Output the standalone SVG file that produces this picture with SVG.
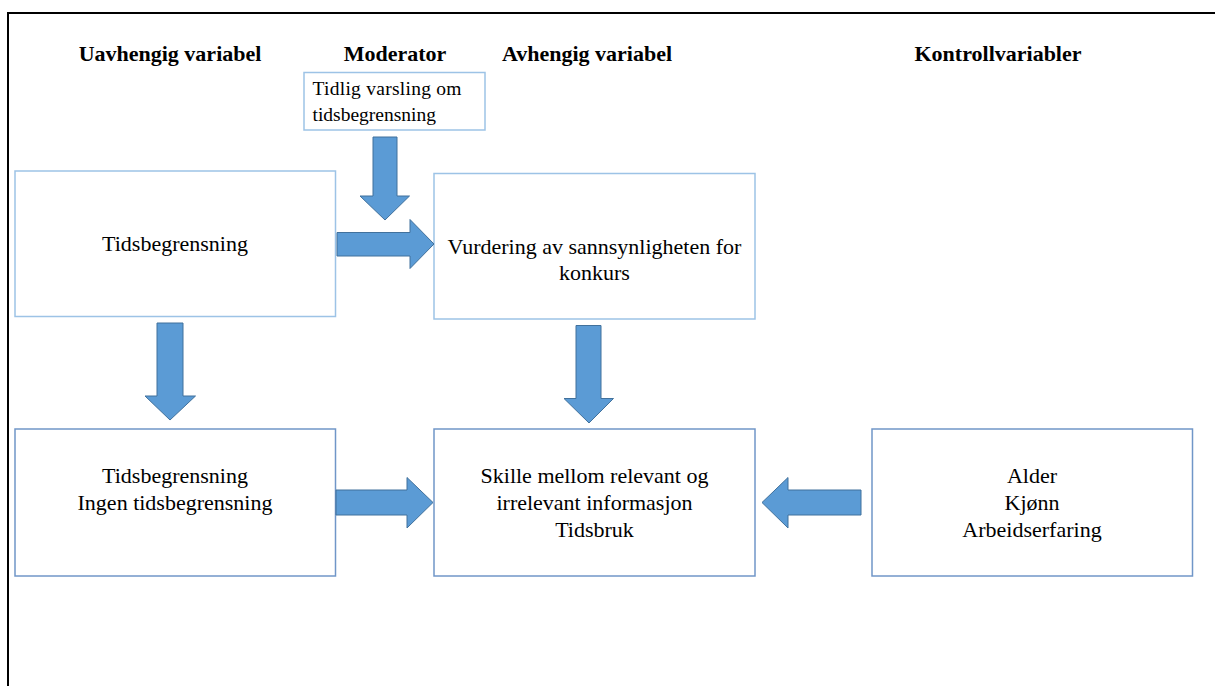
<svg xmlns="http://www.w3.org/2000/svg" width="1215" height="686" viewBox="0 0 1215 686">
<style>
.hdr{font-family:"Liberation Serif","Times New Roman",serif;font-size:22px;font-weight:bold;fill:#000;text-anchor:middle}
.t{font-family:"Liberation Serif","Times New Roman",serif;font-size:22px;fill:#000;text-anchor:middle}
.ts{font-family:"Liberation Serif","Times New Roman",serif;font-size:19.5px;fill:#000}
.boxA{fill:#fff;stroke:#9DC3E6;stroke-width:1.5}
.boxB{fill:#fff;stroke:#7096C8;stroke-width:1.5}
.arr{fill:#5B9BD5;stroke:#41719C;stroke-width:1}
</style>
<rect width="1215" height="686" fill="#fff"/>
<path d="M8,686 L8,13 L1215,13" fill="none" stroke="#000" stroke-width="2"/>
<g id="headers">
<text class="hdr" x="170" y="61">Uavhengig variabel</text>
<text class="hdr" x="395" y="61">Moderator</text>
<text class="hdr" x="587" y="61">Avhengig variabel</text>
<text class="hdr" x="998" y="61">Kontrollvariabler</text>
</g>
<g id="node-moderator">
<rect class="boxA" x="304" y="72.5" width="181" height="57.5"/>
<text class="ts" x="312.5" y="95" textLength="149" lengthAdjust="spacing">Tidlig varsling om</text>
<text class="ts" x="312.5" y="120.5">tidsbegrensning</text>
</g>
<g id="node-tidsbegrensning">
<rect class="boxA" x="15" y="171" width="320.5" height="145.5"/>
<text class="t" x="175" y="251">Tidsbegrensning</text>
</g>
<g id="node-vurdering">
<rect class="boxA" x="434" y="173.5" width="321" height="145.5"/>
<text class="t" x="594.5" y="254">Vurdering av sannsynligheten for</text>
<text class="t" x="594.5" y="279.5">konkurs</text>
</g>
<g id="node-betingelser">
<rect class="boxB" x="15" y="429" width="320.5" height="147"/>
<text class="t" x="175" y="482.5">Tidsbegrensning</text>
<text class="t" x="175" y="510">Ingen tidsbegrensning</text>
</g>
<g id="node-skille">
<rect class="boxB" x="434" y="429" width="321" height="147"/>
<text class="t" x="594.5" y="482.5">Skille mellom relevant og</text>
<text class="t" x="594.5" y="510">irrelevant informasjon</text>
<text class="t" x="594.5" y="537">Tidsbruk</text>
</g>
<g id="node-kontroll">
<rect class="boxB" x="872" y="429" width="320.5" height="147"/>
<text class="t" x="1032" y="482.5">Alder</text>
<text class="t" x="1032" y="510">Kjønn</text>
<text class="t" x="1032" y="537">Arbeidserfaring</text>
</g>
<g id="connectors">
<polygon class="arr" points="373,137 397,137 397,196 409.5,196 385,220 360,196 373,196"/>
<polygon class="arr" points="337,232.5 410,232.5 410,219.5 434,244 410,268.5 410,256 337,256"/>
<polygon class="arr" points="157,323 183,323 183,396 195.5,396 170,420 145,396 157,396"/>
<polygon class="arr" points="576,325.5 601,325.5 601,398.5 613.5,398.5 589,423 564,398.5 576,398.5"/>
<polygon class="arr" points="336,490 407,490 407,477.5 433,502.5 407,528 407,515 336,515"/>
<polygon class="arr" points="861,490 788,490 788,477.5 762,502.5 788,528 788,515 861,515"/>
</g>
</svg>
